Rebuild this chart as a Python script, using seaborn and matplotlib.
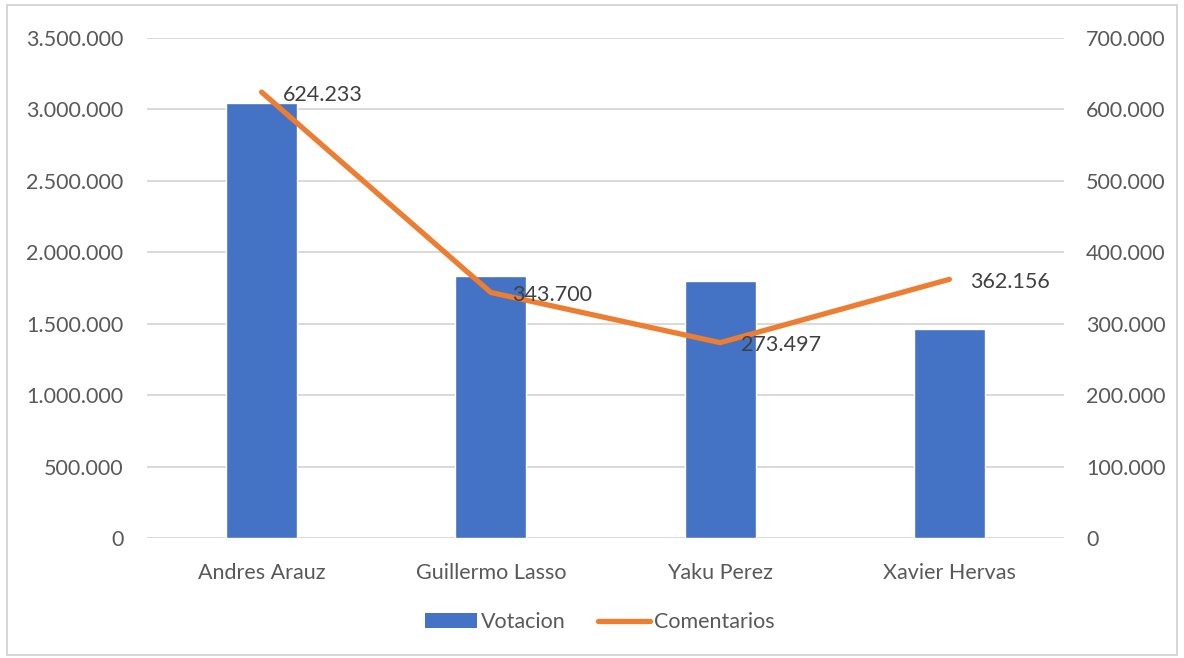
import matplotlib
matplotlib.use("Agg")
import matplotlib.pyplot as plt
import seaborn as sns
import pandas as pd
from matplotlib.patches import Patch, Rectangle
from matplotlib.lines import Line2D
from matplotlib.ticker import FuncFormatter, MultipleLocator

# Data
candidatos = ["Andres Arauz", "Guillermo Lasso", "Yaku Perez", "Xavier Hervas"]
votacion = [3045000, 1835000, 1800000, 1460000]
comentarios = [624233, 343700, 273497, 362156]

df = pd.DataFrame({"Candidato": candidatos, "Votacion": votacion, "Comentarios": comentarios})

BLUE = "#4472C4"
ORANGE = "#ED7D31"
TEXT = "#595959"
GRID = "#D9D9D9"
FS = 15.5

sns.set_theme(style="white")
plt.rcParams["font.family"] = ["Lato", "DejaVu Sans"]

fig = plt.figure(figsize=(11.84, 6.58), dpi=100)
W, H = 1184, 658
ax = fig.add_axes([147 / W, 1 - 538 / H, (1064 - 147) / W, (538 - 38) / H])

sns.barplot(data=df, x="Candidato", y="Votacion", color=BLUE, width=0.31,
            saturation=1, ax=ax, zorder=2)

ax.set_ylim(0, 3500000)
ax.yaxis.set_major_locator(MultipleLocator(500000))
fmt = FuncFormatter(lambda v, p: f"{int(round(v)):,}".replace(",", "."))
ax.yaxis.set_major_formatter(fmt)
ax.grid(axis="y", color=GRID, linewidth=1.4, zorder=0)
ax.set_axisbelow(True)
for s in ax.spines.values():
    s.set_visible(False)
ax.set_xlabel("")
ax.set_ylabel("")
ax.tick_params(axis="both", length=0, colors=TEXT, labelsize=FS)
ax.tick_params(axis="y", pad=17)
ax.tick_params(axis="x", pad=18)

ax2 = ax.twinx()
sns.lineplot(data=df, x="Candidato", y="Comentarios", color=ORANGE, linewidth=3.8,
             ax=ax2, sort=False, solid_capstyle="round", solid_joinstyle="round")
ax2.set_ylim(0, 700000)
ax2.yaxis.set_major_locator(MultipleLocator(100000))
ax2.yaxis.set_major_formatter(fmt)
for s in ax2.spines.values():
    s.set_visible(False)
ax2.set_ylabel("")
ax2.set_xlabel("")
ax2.grid(False)
ax2.tick_params(axis="y", length=0, colors=TEXT, labelsize=FS, pad=16)
ax.set_xlim(-0.5, len(candidatos) - 0.5)

for i, v in enumerate(comentarios):
    ax2.annotate(fmt(v, None), (i, v), xytext=(15, -2), textcoords="offset points",
                 ha="left", va="center", color="#404040", fontsize=FS)

handles = [Patch(facecolor=BLUE, edgecolor="none"),
           Line2D([0], [0], color=ORANGE, linewidth=3.8, solid_capstyle="round")]
leg = fig.legend(handles, ["Votacion", "Comentarios"], loc="center",
                 bbox_to_anchor=(600 / W, 1 - 622 / H), ncol=2, frameon=False,
                 fontsize=FS, handlelength=2.4, handleheight=0.65,
                 handletextpad=0.2, columnspacing=1.5)
for t in leg.get_texts():
    t.set_color(TEXT)

# Outer chart frame
fig.patches.append(Rectangle((7 / W, 1 - 655 / H), (1177 - 7) / W, (655 - 5) / H,
                             transform=fig.transFigure, fill=False,
                             edgecolor="#D0D0D0", linewidth=1.2))

fig.savefig("out.png", dpi=100)
